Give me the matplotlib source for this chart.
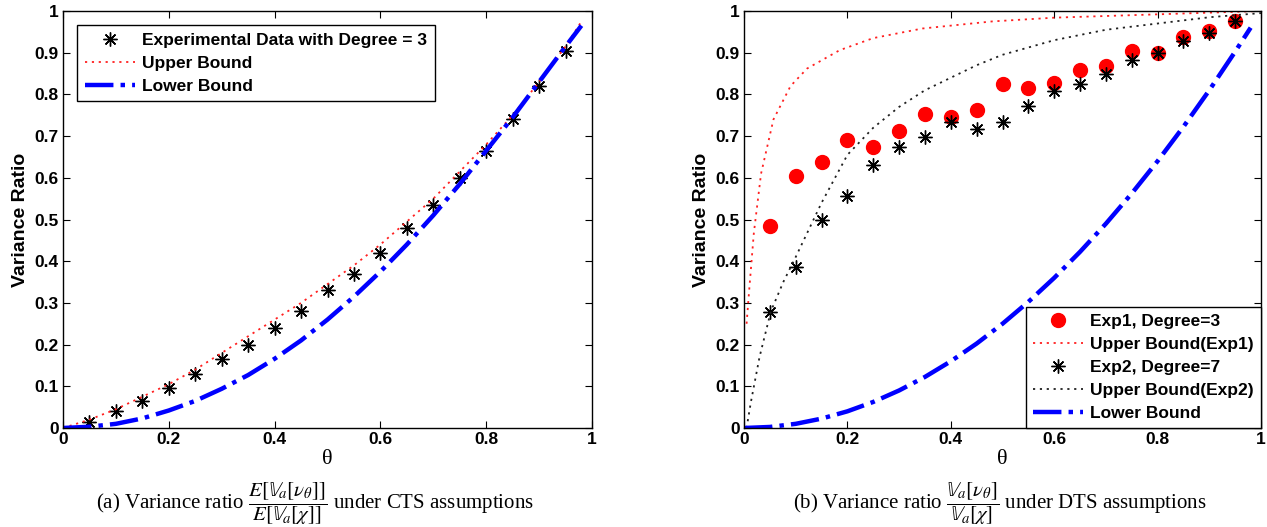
import numpy as np
import matplotlib.pyplot as plt
from matplotlib.ticker import FuncFormatter

plt.rcParams['mathtext.fontset'] = 'stix'
plt.rcParams['font.family'] = ['Liberation Sans', 'DejaVu Sans']

# (a) CTS: experimental points and bounds
theta_pts = [0.05, 0.1, 0.15, 0.2, 0.25, 0.3, 0.35, 0.4, 0.45, 0.5,
             0.55, 0.6, 0.65, 0.7, 0.75, 0.8, 0.85, 0.9, 0.95]
cts_exp = [0.015, 0.04, 0.065, 0.095, 0.13, 0.165, 0.2, 0.24, 0.28, 0.33,
           0.37, 0.42, 0.48, 0.535, 0.6, 0.665, 0.74, 0.82, 0.905]

theta_curve = [0, 0.05, 0.1, 0.15, 0.2, 0.25, 0.3, 0.35, 0.4, 0.45, 0.5,
               0.55, 0.6, 0.65, 0.7, 0.75, 0.8, 0.85, 0.9, 0.95, 0.98]
cts_upper = [0, 0.02, 0.045, 0.075, 0.105, 0.14, 0.18, 0.22, 0.26, 0.3, 0.345,
             0.39, 0.44, 0.495, 0.55, 0.615, 0.68, 0.75, 0.83, 0.915, 0.975]
cts_lower = [0, 0.003, 0.01, 0.023, 0.042, 0.065, 0.094, 0.127, 0.166, 0.21, 0.26,
             0.315, 0.375, 0.44, 0.51, 0.585, 0.665, 0.745, 0.83, 0.915, 0.965]

# (b) DTS
dts_exp1 = [0.485, 0.605, 0.638, 0.69, 0.675, 0.713, 0.752, 0.745, 0.762, 0.826,
            0.815, 0.828, 0.858, 0.868, 0.905, 0.9, 0.938, 0.952, 0.975]
dts_exp2 = [0.277, 0.385, 0.498, 0.557, 0.63, 0.673, 0.698, 0.735, 0.717, 0.735,
            0.773, 0.808, 0.825, 0.848, 0.882, 0.9, 0.928, 0.947, 0.975]

theta_up1 = [0.005, 0.01, 0.019, 0.033, 0.057, 0.09, 0.122, 0.185, 0.25, 0.345,
             0.48, 0.6, 0.8, 0.9, 1.0]
dts_upper1 = [0.25, 0.33, 0.467, 0.61, 0.74, 0.82, 0.862, 0.906, 0.935, 0.958,
              0.975, 0.984, 0.992, 0.996, 1.0]
theta_up2 = [0.005, 0.013, 0.03, 0.052, 0.076, 0.1, 0.15, 0.2, 0.25, 0.3, 0.35,
             0.4, 0.45, 0.5, 0.6, 0.7, 0.8, 0.9, 1.0]
dts_upper2 = [0.0, 0.06, 0.17, 0.28, 0.35, 0.41, 0.54, 0.655, 0.72, 0.77, 0.81,
              0.84, 0.87, 0.895, 0.93, 0.955, 0.97, 0.985, 0.995]
dts_lower = [0, 0.0025, 0.01, 0.0225, 0.04, 0.0625, 0.09, 0.1225, 0.16, 0.2025, 0.25,
             0.3025, 0.36, 0.4225, 0.49, 0.5625, 0.64, 0.7225, 0.81, 0.9025, 0.96]

star = (8, 2, 0)
dots = (0, (1.2, 2.6))
fmt = FuncFormatter(lambda v, p: ('%g' % round(v, 2)))

fig = plt.figure(figsize=(12.67, 5.27), dpi=100)
ax1 = fig.add_axes([63/1267, 99/527, 529/1267, 417/527])
ax2 = fig.add_axes([744/1267, 99/527, 517/1267, 417/527])

ax1.plot(theta_pts, cts_exp, linestyle='none', marker=star, color='k', ms=10, mew=1.0,
         label='Experimental Data with Degree = 3')
ax1.plot(theta_curve, cts_upper, linestyle=dots, color='#ff2020', lw=1.3, label='Upper Bound')
ax1.plot(theta_curve, cts_lower, '-.', color='#0000ff', lw=3.2, label='Lower Bound')

ax2.plot(theta_pts, dts_exp1, linestyle='none', marker='o', color='#ff0000', ms=10,
         label='Exp1, Degree=3')
ax2.plot(theta_up1, dts_upper1, linestyle=dots, color='#ff2020', lw=1.3, label='Upper Bound(Exp1)')
ax2.plot(theta_pts, dts_exp2, linestyle='none', marker=star, color='k', ms=10, mew=1.0,
         label='Exp2, Degree=7')
ax2.plot(theta_up2, dts_upper2, linestyle=dots, color='#202020', lw=1.3, label='Upper Bound(Exp2)')
ax2.plot(theta_curve, dts_lower, '-.', color='#0000ff', lw=3.2, label='Lower Bound')

for ax in (ax1, ax2):
    ax.set_xlim(0, 1)
    ax.set_ylim(0, 1)
    ax.set_xticks(np.arange(0, 1.01, 0.2))
    ax.set_yticks(np.arange(0, 1.01, 0.1))
    ax.xaxis.set_major_formatter(fmt)
    ax.yaxis.set_major_formatter(fmt)
    ax.tick_params(direction='in', top=True, right=True, length=5, width=0.8,
                   labelsize=12.5, pad=3)
    for lab in ax.get_xticklabels() + ax.get_yticklabels():
        lab.set_fontweight('bold')
    ax.set_xlabel('θ', fontsize=16, family='Liberation Serif', labelpad=2)
    ax.set_ylabel('Variance Ratio', fontsize=14, fontweight='bold', labelpad=4)
    for s in ax.spines.values():
        s.set_linewidth(1.0)

leg_kw = dict(fancybox=False, edgecolor='k', prop={'weight': 'bold', 'size': 12.5},
              handlelength=2.9, handletextpad=0.4, labelspacing=0.45, framealpha=1)
ax1.legend(loc='upper left', bbox_to_anchor=(0.026, 0.967), borderaxespad=0,
           borderpad=0.45, **leg_kw).get_frame().set_linewidth(1.0)
ax2.legend(loc='lower right', borderaxespad=0, borderpad=0.4,
           **leg_kw).get_frame().set_linewidth(1.0)

fig.text(315/1267, 1 - 504/527,
         r'(a) Variance ratio $\dfrac{E[\mathbb{V}_a[\nu_\theta]]}{E[\mathbb{V}_a[\chi]]}$ under CTS assumptions',
         ha='center', va='center', fontsize=15, family='Liberation Serif')
fig.text(1000/1267, 1 - 504/527,
         r'(b) Variance ratio $\dfrac{\mathbb{V}_a[\nu_\theta]}{\mathbb{V}_a[\chi]}$ under DTS assumptions',
         ha='center', va='center', fontsize=15, family='Liberation Serif')

fig.savefig('out.png', dpi=100)
